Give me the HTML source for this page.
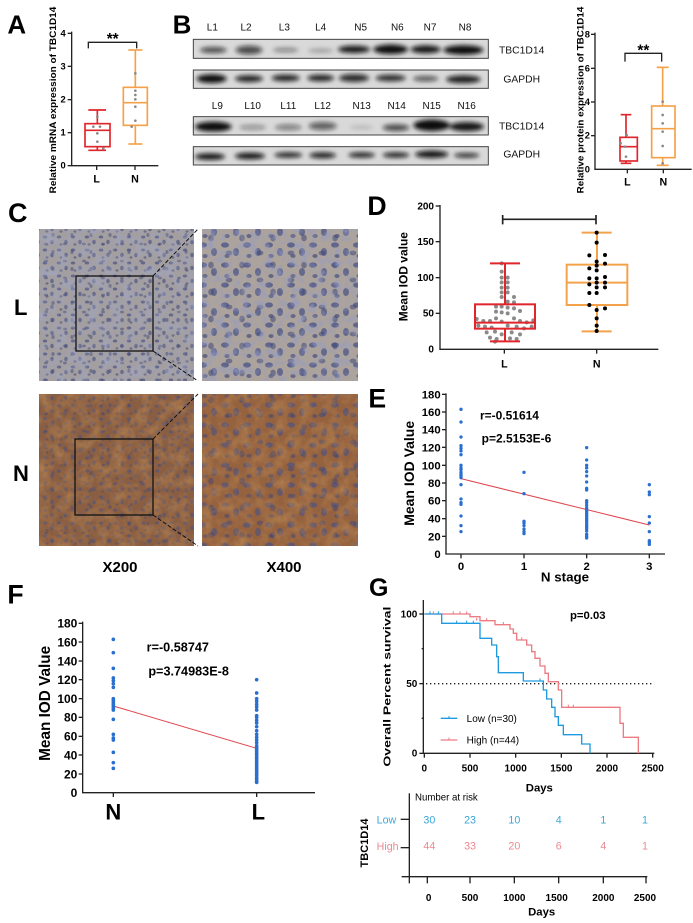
<!DOCTYPE html>
<html><head><meta charset="utf-8"><style>
html,body{margin:0;padding:0;background:#fff;}
svg{display:block;font-family:"Liberation Sans",Arial,sans-serif;}
.b{font-weight:bold;}
</style></head><body>
<svg width="693" height="923" viewBox="0 0 693 923" xmlns="http://www.w3.org/2000/svg">
<defs>
<filter id="blur" x="-20%" y="-50%" width="140%" height="200%"><feGaussianBlur stdDeviation="6"/></filter>
<filter id="noiseL" x="0" y="0" width="1" height="1"><feTurbulence type="fractalNoise" baseFrequency="0.09" numOctaves="3" seed="3"/><feColorMatrix values="0 0 0 0 0.35  0 0 0 0 0.38  0 0 0 0 0.55  0 0 0 1.4 -0.55"/></filter>
<filter id="noiseN" x="0" y="0" width="1" height="1"><feTurbulence type="fractalNoise" baseFrequency="0.08" numOctaves="3" seed="7"/><feColorMatrix values="0 0 0 0 0.45  0 0 0 0 0.22  0 0 0 0 0.08  0 0 0 1.6 -0.6"/></filter>
<filter id="noiseB" x="0" y="0" width="1" height="1"><feTurbulence type="fractalNoise" baseFrequency="0.12" numOctaves="2" seed="11"/><feColorMatrix values="0 0 0 0 0.3  0 0 0 0 0.33  0 0 0 0 0.55  0 0 0 1.8 -0.8"/></filter>
<pattern id="nucS" width="14" height="13" patternUnits="userSpaceOnUse">
<ellipse cx="3" cy="3" rx="2.2" ry="1.5" fill="#475083" opacity=".7"/>
<ellipse cx="10" cy="8" rx="1.8" ry="2.3" fill="#475083" opacity=".65"/>
<ellipse cx="5" cy="10.5" rx="1.5" ry="1.2" fill="#3f4775" opacity=".55"/>
</pattern>
<pattern id="nucS2" width="19" height="17" patternUnits="userSpaceOnUse">
<ellipse cx="8" cy="6" rx="2" ry="1.4" fill="#3f4775" opacity=".5"/>
<ellipse cx="15" cy="14" rx="1.6" ry="2" fill="#3f4775" opacity=".5"/>
</pattern>
<pattern id="nucB" width="22" height="20" patternUnits="userSpaceOnUse">
<ellipse cx="5" cy="5" rx="4" ry="2.6" fill="#465086" opacity=".75"/>
<ellipse cx="16" cy="12" rx="3" ry="4" fill="#465086" opacity=".7"/>
<ellipse cx="7" cy="16" rx="2.6" ry="2" fill="#3e4678" opacity=".65"/>
</pattern>
<pattern id="nucB2" width="31" height="27" patternUnits="userSpaceOnUse">
<ellipse cx="12" cy="10" rx="3.4" ry="2.4" fill="#3e4678" opacity=".55"/>
<ellipse cx="25" cy="22" rx="2.8" ry="3.4" fill="#3e4678" opacity=".55"/>
</pattern>
</defs>

<!-- ========== Panel A ========== -->
<g transform="scale(0.33333)" font-weight="bold">
<text x="22" y="100" font-size="78" class="b">A</text>
<line x1="215" y1="95" x2="215" y2="497" stroke="#222" stroke-width="4"/>
<line x1="213" y1="497" x2="475" y2="497" stroke="#222" stroke-width="4"/>
<g stroke="#222" stroke-width="4">
<line x1="203" y1="100" x2="215" y2="100"/><line x1="203" y1="199" x2="215" y2="199"/><line x1="203" y1="299" x2="215" y2="299"/><line x1="203" y1="398" x2="215" y2="398"/><line x1="203" y1="497" x2="215" y2="497"/>
<line x1="290" y1="497" x2="290" y2="510"/><line x1="405" y1="497" x2="405" y2="510"/>
</g>
<g font-size="28" text-anchor="end"><text x="197" y="109">4</text><text x="197" y="208">3</text><text x="197" y="308">2</text><text x="197" y="407">1</text><text x="197" y="506">0</text></g>
<g font-size="32" text-anchor="middle"><text x="290" y="548">L</text><text x="405" y="548">N</text></g>
<text transform="translate(168,300) rotate(-90)" font-size="28" text-anchor="middle" textLength="560" lengthAdjust="spacingAndGlyphs">Relative mRNA expression of TBC1D14</text>
<path d="M265,145 V127 H410 V145" fill="none" stroke="#222" stroke-width="4"/>
<text x="338" y="132" font-size="46" text-anchor="middle">**</text>
<g stroke="#e0252b" stroke-width="5" fill="none">
<rect x="255" y="371" width="75" height="69"/><line x1="255" y1="391" x2="330" y2="391"/>
<line x1="292" y1="330" x2="292" y2="371"/><line x1="292" y1="440" x2="292" y2="451"/>
<line x1="265" y1="330" x2="318" y2="330"/><line x1="265" y1="451" x2="318" y2="451"/>
</g>
<g stroke="#f4a24a" stroke-width="5" fill="none">
<rect x="370" y="262" width="72" height="114"/><line x1="370" y1="308" x2="442" y2="308"/>
<line x1="406" y1="150" x2="406" y2="262"/><line x1="406" y1="376" x2="406" y2="432"/>
<line x1="385" y1="150" x2="427" y2="150"/><line x1="385" y1="432" x2="427" y2="432"/>
</g>
<g fill="#888"><circle cx="292" cy="350" r="4"/><circle cx="280" cy="380" r="4"/><circle cx="300" cy="380" r="4"/><circle cx="292" cy="400" r="4"/><circle cx="292" cy="425" r="4"/><circle cx="310" cy="445" r="4"/>
<circle cx="406" cy="220" r="4"/><circle cx="406" cy="272" r="4"/><circle cx="406" cy="285" r="4"/><circle cx="406" cy="298" r="4"/><circle cx="406" cy="320" r="4"/><circle cx="406" cy="362" r="4"/><circle cx="395" cy="380" r="4"/></g>
</g>

<!-- ========== Panel B blots ========== -->
<g transform="scale(0.33333)">
<text x="518" y="100" font-size="78" class="b">B</text>
<g font-size="30" text-anchor="middle" fill="#111">
<text x="637" y="92">L1</text><text x="738" y="92">L2</text><text x="853" y="92">L3</text><text x="962" y="92">L4</text>
<text x="1082" y="92">N5</text><text x="1192" y="92">N6</text><text x="1290" y="92">N7</text><text x="1395" y="92">N8</text>
<text x="652" y="327">L9</text><text x="758" y="327">L10</text><text x="865" y="327">L11</text><text x="968" y="327">L12</text>
<text x="1085" y="327">N13</text><text x="1190" y="327">N14</text><text x="1295" y="327">N15</text><text x="1400" y="327">N16</text>
</g>
<g font-size="31" fill="#111">
<text x="1497" y="160">TBC1D14</text><text x="1510" y="248">GAPDH</text>
<text x="1497" y="388">TBC1D14</text><text x="1510" y="472">GAPDH</text>
</g>
<g fill="#d9d9d9" stroke="#444" stroke-width="3">
<rect x="580" y="118" width="885" height="57"/><rect x="580" y="210" width="885" height="55"/>
<rect x="580" y="350" width="885" height="55"/><rect x="580" y="440" width="885" height="55"/>
</g>
<g filter="url(#blur)" fill="#111">
<ellipse cx="640" cy="150" rx="40" ry="9" opacity=".7"/><ellipse cx="747" cy="150" rx="40" ry="13" opacity=".7"/>
<ellipse cx="857" cy="150" rx="38" ry="7" opacity=".4"/><ellipse cx="962" cy="152" rx="38" ry="7" opacity=".25"/>
<ellipse cx="1062" cy="148" rx="48" ry="11" opacity=".95"/><ellipse cx="1172" cy="148" rx="52" ry="14" opacity="1"/>
<ellipse cx="1277" cy="148" rx="45" ry="12" opacity=".95"/><ellipse cx="1390" cy="150" rx="60" ry="14" opacity="1"/>
<ellipse cx="635" cy="236" rx="45" ry="13" opacity="1"/><ellipse cx="747" cy="236" rx="42" ry="10" opacity=".9"/>
<ellipse cx="857" cy="234" rx="42" ry="10" opacity=".9"/><ellipse cx="962" cy="234" rx="40" ry="10" opacity=".9"/>
<ellipse cx="1062" cy="234" rx="45" ry="12" opacity=".85"/><ellipse cx="1172" cy="234" rx="45" ry="10" opacity=".85"/>
<ellipse cx="1277" cy="236" rx="38" ry="8" opacity=".65"/><ellipse cx="1390" cy="238" rx="52" ry="12" opacity=".9"/>
<ellipse cx="640" cy="380" rx="55" ry="15" opacity="1"/><ellipse cx="758" cy="382" rx="40" ry="8" opacity=".35"/>
<ellipse cx="865" cy="382" rx="40" ry="9" opacity=".45"/><ellipse cx="968" cy="378" rx="42" ry="12" opacity=".6"/>
<ellipse cx="1085" cy="382" rx="35" ry="6" opacity=".15"/><ellipse cx="1188" cy="383" rx="40" ry="10" opacity=".7"/>
<ellipse cx="1295" cy="376" rx="55" ry="17" opacity="1"/><ellipse cx="1400" cy="380" rx="52" ry="14" opacity=".95"/>
<ellipse cx="630" cy="470" rx="45" ry="10" opacity=".95"/><ellipse cx="750" cy="468" rx="45" ry="10" opacity=".95"/>
<ellipse cx="865" cy="465" rx="42" ry="8" opacity=".9"/><ellipse cx="968" cy="466" rx="40" ry="9" opacity=".9"/>
<ellipse cx="1085" cy="465" rx="40" ry="8" opacity=".9"/><ellipse cx="1188" cy="465" rx="40" ry="8" opacity=".9"/>
<ellipse cx="1295" cy="463" rx="50" ry="11" opacity=".95"/><ellipse cx="1400" cy="466" rx="38" ry="7" opacity=".85"/>
</g>
</g>

<!-- ========== Panel B right plot ========== -->
<g transform="translate(340,0) scale(0.33333)" font-weight="bold">
<line x1="765" y1="98" x2="765" y2="508" stroke="#222" stroke-width="4"/>
<line x1="763" y1="508" x2="1055" y2="508" stroke="#222" stroke-width="4"/>
<g stroke="#222" stroke-width="4">
<line x1="753" y1="103" x2="765" y2="103"/><line x1="753" y1="205" x2="765" y2="205"/><line x1="753" y1="306" x2="765" y2="306"/><line x1="753" y1="407" x2="765" y2="407"/>
<line x1="862" y1="508" x2="862" y2="520"/><line x1="970" y1="508" x2="970" y2="520"/>
</g>
<g font-size="28" text-anchor="end"><text x="750" y="112">8</text><text x="750" y="214">6</text><text x="750" y="315">4</text><text x="750" y="416">2</text><text x="750" y="517">0</text></g>
<g font-size="32" text-anchor="middle"><text x="862" y="556">L</text><text x="970" y="556">N</text></g>
<text transform="translate(730,300) rotate(-90)" font-size="28" text-anchor="middle" textLength="560" lengthAdjust="spacingAndGlyphs">Relative protein expression of TBC1D14</text>
<path d="M855,185 V160 H965 V185" fill="none" stroke="#222" stroke-width="4"/>
<text x="910" y="167" font-size="46" text-anchor="middle">**</text>
<g stroke="#e0252b" stroke-width="5" fill="none">
<rect x="840" y="412" width="52" height="71"/><line x1="840" y1="440" x2="892" y2="440"/>
<line x1="858" y1="344" x2="858" y2="412"/><line x1="858" y1="483" x2="858" y2="490"/>
<line x1="842" y1="344" x2="874" y2="344"/><line x1="842" y1="490" x2="874" y2="490"/>
</g>
<g stroke="#f4a24a" stroke-width="5" fill="none">
<rect x="935" y="318" width="70" height="155"/><line x1="935" y1="386" x2="1005" y2="386"/>
<line x1="968" y1="202" x2="968" y2="318"/><line x1="968" y1="473" x2="968" y2="496"/>
<line x1="950" y1="202" x2="986" y2="202"/><line x1="950" y1="496" x2="986" y2="496"/>
</g>
<g fill="#888"><circle cx="842" cy="430" r="4"/><circle cx="855" cy="440" r="4"/><circle cx="858" cy="470" r="4"/><circle cx="860" cy="405" r="4"/>
<circle cx="968" cy="305" r="4"/><circle cx="968" cy="345" r="4"/><circle cx="968" cy="370" r="4"/><circle cx="968" cy="395" r="4"/><circle cx="968" cy="438" r="4"/><circle cx="968" cy="490" r="4"/></g>
</g>

<!-- ========== Panel C ========== -->
<text x="8" y="222" font-size="27" class="b">C</text>
<text x="14" y="315" font-size="22" class="b">L</text>
<text x="13" y="481" font-size="22" class="b">N</text>
<rect x="39" y="229" width="155" height="152" fill="#a39e9f"/>
<rect x="39" y="229" width="155" height="152" fill="url(#nucS)"/>
<rect x="39" y="229" width="155" height="152" fill="url(#nucS2)"/>
<rect x="39" y="229" width="155" height="152" filter="url(#noiseL)"/>
<rect x="202" y="229" width="156" height="152" fill="#aca39c"/>
<rect x="202" y="229" width="156" height="152" fill="url(#nucB)"/>
<rect x="202" y="229" width="156" height="152" fill="url(#nucB2)"/>
<rect x="202" y="229" width="156" height="152" filter="url(#noiseB)"/>
<rect x="39" y="394" width="155" height="152" fill="#8a5e42"/>
<rect x="39" y="394" width="155" height="152" fill="url(#nucS)" opacity=".8"/>
<rect x="39" y="394" width="155" height="152" fill="url(#nucS2)" opacity=".8"/>
<rect x="39" y="394" width="155" height="152" filter="url(#noiseN)"/>
<rect x="202" y="394" width="156" height="152" fill="#95623f"/>
<rect x="202" y="394" width="156" height="152" fill="url(#nucB)" opacity=".85"/>
<rect x="202" y="394" width="156" height="152" fill="url(#nucB2)" opacity=".85"/>
<rect x="202" y="394" width="156" height="152" filter="url(#noiseN)"/>
<rect x="76" y="276" width="77" height="75" fill="none" stroke="#111" stroke-width="1.3"/>
<rect x="75" y="439" width="78" height="76" fill="none" stroke="#111" stroke-width="1.3"/>
<g stroke="#111" stroke-width="1" stroke-dasharray="4,2">
<line x1="153" y1="276" x2="198" y2="229"/><line x1="153" y1="351" x2="198" y2="381"/>
<line x1="153" y1="439" x2="198" y2="394"/><line x1="153" y1="515" x2="198" y2="546"/>
</g>
<text x="120" y="572" font-size="15" class="b" text-anchor="middle">X200</text>
<text x="284" y="572" font-size="15" class="b" text-anchor="middle">X400</text>

<!-- ========== Panel D ========== -->
<g transform="translate(370,195) scale(0.33333)" font-weight="bold">
<text x="-8" y="60" font-size="80">D</text>
<line x1="210" y1="30" x2="210" y2="463" stroke="#222" stroke-width="4"/>
<line x1="208" y1="463" x2="865" y2="463" stroke="#222" stroke-width="4"/>
<g stroke="#222" stroke-width="4"><line x1="197" y1="33" x2="210" y2="33"/><line x1="197" y1="140" x2="210" y2="140"/><line x1="197" y1="248" x2="210" y2="248"/><line x1="197" y1="355" x2="210" y2="355"/><line x1="403" y1="463" x2="403" y2="476"/><line x1="680" y1="463" x2="680" y2="476"/></g>
<g font-size="30" text-anchor="end"><text x="192" y="43">200</text><text x="192" y="150">150</text><text x="192" y="258">100</text><text x="192" y="365">50</text><text x="192" y="473">0</text></g>
<g font-size="32" text-anchor="middle"><text x="403" y="518">L</text><text x="680" y="518">N</text></g>
<text transform="translate(112,245) rotate(-90)" font-size="36" text-anchor="middle">Mean IOD value</text>
<path d="M398,88 V60 M398,73 H678 M678,60 V88" fill="none" stroke="#222" stroke-width="5"/>
<g fill="#8a8a8a">
<circle cx="395" cy="205" r="6"/><circle cx="395" cy="230" r="6"/><circle cx="395" cy="248" r="6"/><circle cx="413" cy="248" r="6"/><circle cx="395" cy="262" r="6"/><circle cx="413" cy="262" r="6"/><circle cx="395" cy="278" r="6"/><circle cx="413" cy="278" r="6"/><circle cx="395" cy="292" r="6"/><circle cx="413" cy="292" r="6"/><circle cx="432" cy="306" r="6"/><circle cx="395" cy="306" r="6"/><circle cx="413" cy="320" r="6"/><circle cx="432" cy="322" r="6"/><circle cx="378" cy="335" r="6"/><circle cx="395" cy="335" r="6"/><circle cx="413" cy="338" r="6"/><circle cx="432" cy="340" r="6"/><circle cx="450" cy="348" r="6"/><circle cx="378" cy="350" r="6"/><circle cx="395" cy="352" r="6"/><circle cx="413" cy="355" r="6"/><circle cx="320" cy="372" r="6"/><circle cx="340" cy="378" r="6"/><circle cx="360" cy="378" r="6"/><circle cx="378" cy="370" r="6"/><circle cx="395" cy="380" r="6"/><circle cx="432" cy="370" r="6"/><circle cx="450" cy="378" r="6"/><circle cx="470" cy="382" r="6"/><circle cx="490" cy="376" r="6"/><circle cx="325" cy="392" r="6"/><circle cx="345" cy="395" r="6"/><circle cx="365" cy="398" r="6"/><circle cx="413" cy="392" r="6"/><circle cx="440" cy="395" r="6"/><circle cx="462" cy="400" r="6"/><circle cx="485" cy="395" r="6"/><circle cx="350" cy="412" r="6"/><circle cx="375" cy="410" r="6"/><circle cx="395" cy="418" r="6"/><circle cx="425" cy="412" r="6"/><circle cx="450" cy="418" r="6"/><circle cx="360" cy="428" r="6"/><circle cx="380" cy="432" r="6"/><circle cx="420" cy="430" r="6"/><circle cx="440" cy="432" r="6"/><circle cx="375" cy="440" r="6"/>
</g>
<g stroke="#e0252b" stroke-width="6" fill="none">
<rect x="315" y="328" width="180" height="73"/><line x1="315" y1="383" x2="495" y2="383"/>
<line x1="405" y1="205" x2="405" y2="328"/><line x1="405" y1="401" x2="405" y2="439"/>
<line x1="360" y1="205" x2="450" y2="205"/><line x1="360" y1="439" x2="450" y2="439"/>
</g>
<g stroke="#f4a24a" stroke-width="6" fill="none">
<rect x="590" y="209" width="182" height="121"/><line x1="590" y1="263" x2="772" y2="263"/>
<line x1="681" y1="113" x2="681" y2="209"/><line x1="681" y1="330" x2="681" y2="409"/>
<line x1="635" y1="113" x2="725" y2="113"/><line x1="635" y1="409" x2="725" y2="409"/>
</g>
<g fill="#000">
<circle cx="680" cy="113" r="6"/><circle cx="680" cy="143" r="6"/><circle cx="658" cy="181" r="6"/><circle cx="705" cy="180" r="6"/><circle cx="680" cy="200" r="6"/><circle cx="658" cy="220" r="6"/><circle cx="680" cy="212" r="6"/><circle cx="705" cy="206" r="6"/><circle cx="680" cy="226" r="6"/><circle cx="658" cy="250" r="6"/><circle cx="680" cy="250" r="6"/><circle cx="705" cy="246" r="6"/><circle cx="658" cy="268" r="6"/><circle cx="680" cy="263" r="6"/><circle cx="705" cy="263" r="6"/><circle cx="680" cy="277" r="6"/><circle cx="705" cy="277" r="6"/><circle cx="658" cy="294" r="6"/><circle cx="680" cy="294" r="6"/><circle cx="658" cy="330" r="6"/><circle cx="705" cy="340" r="6"/><circle cx="680" cy="345" r="6"/><circle cx="680" cy="370" r="6"/><circle cx="680" cy="392" r="6"/><circle cx="680" cy="408" r="6"/>
</g>
</g>

<!-- ========== Panel E ========== -->
<g transform="translate(370,380) scale(0.33333)" font-weight="bold">
<text x="-5" y="82" font-size="80">E</text>
<line x1="228" y1="40" x2="228" y2="522" stroke="#222" stroke-width="4"/>
<line x1="226" y1="522" x2="885" y2="522" stroke="#222" stroke-width="4"/>
<g stroke="#222" stroke-width="4">
<line x1="216" y1="43" x2="228" y2="43"/><line x1="216" y1="96" x2="228" y2="96"/><line x1="216" y1="149" x2="228" y2="149"/><line x1="216" y1="202" x2="228" y2="202"/><line x1="216" y1="256" x2="228" y2="256"/><line x1="216" y1="309" x2="228" y2="309"/><line x1="216" y1="362" x2="228" y2="362"/><line x1="216" y1="416" x2="228" y2="416"/><line x1="216" y1="469" x2="228" y2="469"/>
<line x1="273" y1="522" x2="273" y2="535"/><line x1="462" y1="522" x2="462" y2="535"/><line x1="650" y1="522" x2="650" y2="535"/><line x1="838" y1="522" x2="838" y2="535"/>
</g>
<g font-size="34" text-anchor="end"><text x="212" y="55">180</text><text x="212" y="108">160</text><text x="212" y="161">140</text><text x="212" y="214">120</text><text x="212" y="268">100</text><text x="212" y="321">80</text><text x="212" y="374">60</text><text x="212" y="428">40</text><text x="212" y="481">20</text><text x="212" y="534">0</text></g>
<g font-size="34" text-anchor="middle"><text x="273" y="570">0</text><text x="462" y="570">1</text><text x="650" y="570">2</text><text x="838" y="570">3</text></g>
<text x="585" y="605" font-size="40" text-anchor="middle">N stage</text>
<text transform="translate(132,280) rotate(-90)" font-size="42" text-anchor="middle">Mean IOD Value</text>
<text x="330" y="118" font-size="36">r=-0.51614</text>
<text x="335" y="187" font-size="36">p=2.5153E-6</text>
<line x1="273" y1="296" x2="838" y2="435" stroke="#e0454d" stroke-width="3"/>
<g fill="#2a6fd0">
<circle cx="273" cy="88" r="5"/><circle cx="273" cy="126" r="5"/><circle cx="273" cy="171" r="5"/><circle cx="273" cy="197" r="5"/><circle cx="273" cy="205" r="5"/><circle cx="273" cy="213" r="5"/><circle cx="273" cy="224" r="5"/><circle cx="273" cy="256" r="5"/><circle cx="273" cy="264" r="5"/><circle cx="273" cy="269" r="5"/><circle cx="273" cy="277" r="5"/><circle cx="273" cy="283" r="5"/><circle cx="273" cy="288" r="5"/><circle cx="273" cy="293" r="5"/><circle cx="273" cy="314" r="5"/><circle cx="273" cy="357" r="5"/><circle cx="273" cy="368" r="5"/><circle cx="273" cy="373" r="5"/><circle cx="273" cy="408" r="5"/><circle cx="273" cy="437" r="5"/><circle cx="273" cy="455" r="5"/>
<circle cx="462" cy="277" r="5"/><circle cx="462" cy="341" r="5"/><circle cx="462" cy="424" r="5"/><circle cx="462" cy="429" r="5"/><circle cx="462" cy="437" r="5"/><circle cx="462" cy="447" r="5"/><circle cx="462" cy="455" r="5"/><circle cx="462" cy="461" r="5"/>
<circle cx="650" cy="203" r="5"/><circle cx="650" cy="240" r="5"/><circle cx="650" cy="256" r="5"/><circle cx="650" cy="264" r="5"/><circle cx="650" cy="275" r="5"/><circle cx="650" cy="288" r="5"/><circle cx="650" cy="306" r="5"/><circle cx="650" cy="325" r="5"/><circle cx="650" cy="330" r="5"/><circle cx="650" cy="362" r="5"/><circle cx="650" cy="368" r="5"/><circle cx="650" cy="376" r="5"/><circle cx="650" cy="384" r="5"/><circle cx="650" cy="389" r="5"/><circle cx="650" cy="394" r="5"/><circle cx="650" cy="400" r="5"/><circle cx="650" cy="405" r="5"/><circle cx="650" cy="410" r="5"/><circle cx="650" cy="416" r="5"/><circle cx="650" cy="421" r="5"/><circle cx="650" cy="426" r="5"/><circle cx="650" cy="432" r="5"/><circle cx="650" cy="437" r="5"/><circle cx="650" cy="442" r="5"/><circle cx="650" cy="447" r="5"/><circle cx="650" cy="453" r="5"/><circle cx="650" cy="463" r="5"/><circle cx="650" cy="469" r="5"/><circle cx="650" cy="474" r="5"/>
<circle cx="838" cy="314" r="5"/><circle cx="838" cy="336" r="5"/><circle cx="838" cy="344" r="5"/><circle cx="838" cy="410" r="5"/><circle cx="838" cy="429" r="5"/><circle cx="838" cy="455" r="5"/><circle cx="838" cy="482" r="5"/><circle cx="838" cy="487" r="5"/><circle cx="838" cy="493" r="5"/>
</g>
</g>

<!-- ========== Panel F ========== -->
<g transform="translate(0,590) scale(0.33333)" font-weight="bold">
<text x="22" y="40" font-size="80">F</text>
<line x1="248" y1="95" x2="248" y2="608" stroke="#222" stroke-width="4"/>
<line x1="246" y1="608" x2="945" y2="608" stroke="#222" stroke-width="4"/>
<g stroke="#222" stroke-width="4">
<line x1="236" y1="100" x2="248" y2="100"/><line x1="236" y1="156" x2="248" y2="156"/><line x1="236" y1="213" x2="248" y2="213"/><line x1="236" y1="269" x2="248" y2="269"/><line x1="236" y1="326" x2="248" y2="326"/><line x1="236" y1="382" x2="248" y2="382"/><line x1="236" y1="439" x2="248" y2="439"/><line x1="236" y1="495" x2="248" y2="495"/><line x1="236" y1="552" x2="248" y2="552"/>
<line x1="340" y1="608" x2="340" y2="621"/><line x1="770" y1="608" x2="770" y2="621"/>
</g>
<g font-size="36" text-anchor="end"><text x="232" y="113">180</text><text x="232" y="169">160</text><text x="232" y="226">140</text><text x="232" y="282">120</text><text x="232" y="339">100</text><text x="232" y="395">80</text><text x="232" y="452">60</text><text x="232" y="508">40</text><text x="232" y="565">20</text><text x="232" y="621">0</text></g>
<g font-size="66" text-anchor="middle"><text x="340" y="688">N</text><text x="775" y="688">L</text></g>
<text transform="translate(150,340) rotate(-90)" font-size="46" text-anchor="middle">Mean IOD Value</text>
<text x="440" y="185" font-size="38">r=-0.58747</text>
<text x="445" y="256" font-size="38">p=3.74983E-8</text>
<line x1="340" y1="348" x2="770" y2="475" stroke="#e0454d" stroke-width="3"/>
<g fill="#2a6fd0">
<circle cx="340" cy="148" r="5.5"/><circle cx="340" cy="188" r="5.5"/><circle cx="340" cy="235" r="5.5"/><circle cx="340" cy="264" r="5.5"/><circle cx="340" cy="272" r="5.5"/><circle cx="340" cy="281" r="5.5"/><circle cx="340" cy="292" r="5.5"/><circle cx="340" cy="326" r="5.5"/><circle cx="340" cy="331" r="5.5"/><circle cx="340" cy="337" r="5.5"/><circle cx="340" cy="343" r="5.5"/><circle cx="340" cy="348" r="5.5"/><circle cx="340" cy="354" r="5.5"/><circle cx="340" cy="360" r="5.5"/><circle cx="340" cy="388" r="5.5"/><circle cx="340" cy="433" r="5.5"/><circle cx="340" cy="444" r="5.5"/><circle cx="340" cy="450" r="5.5"/><circle cx="340" cy="487" r="5.5"/><circle cx="340" cy="518" r="5.5"/><circle cx="340" cy="535" r="5.5"/>
<circle cx="770" cy="269" r="5.5"/><circle cx="770" cy="309" r="5.5"/><circle cx="770" cy="326" r="5.5"/><circle cx="770" cy="334" r="5.5"/><circle cx="770" cy="343" r="5.5"/><circle cx="770" cy="351" r="5.5"/><circle cx="770" cy="360" r="5.5"/><circle cx="770" cy="377" r="5.5"/><circle cx="770" cy="382" r="5.5"/><circle cx="770" cy="391" r="5.5"/><circle cx="770" cy="399" r="5.5"/><circle cx="770" cy="410" r="5.5"/><circle cx="770" cy="422" r="5.5"/><circle cx="770" cy="433" r="5.5"/><circle cx="770" cy="442" r="5.5"/><circle cx="770" cy="450" r="5.5"/><circle cx="770" cy="458" r="5.5"/><circle cx="770" cy="467" r="5.5"/><circle cx="770" cy="473" r="5.5"/><circle cx="770" cy="478" r="5.5"/><circle cx="770" cy="484" r="5.5"/><circle cx="770" cy="490" r="5.5"/><circle cx="770" cy="495" r="5.5"/><circle cx="770" cy="501" r="5.5"/><circle cx="770" cy="506" r="5.5"/><circle cx="770" cy="512" r="5.5"/><circle cx="770" cy="518" r="5.5"/><circle cx="770" cy="523" r="5.5"/><circle cx="770" cy="529" r="5.5"/><circle cx="770" cy="535" r="5.5"/><circle cx="770" cy="540" r="5.5"/><circle cx="770" cy="546" r="5.5"/><circle cx="770" cy="552" r="5.5"/><circle cx="770" cy="557" r="5.5"/><circle cx="770" cy="563" r="5.5"/><circle cx="770" cy="568" r="5.5"/><circle cx="770" cy="574" r="5.5"/><circle cx="770" cy="577" r="5.5"/>
</g>
</g>

<!-- ========== Panel G ========== -->
<text x="369" y="596" font-size="25" class="b">G</text>
<g transform="translate(370,590) scale(0.33333)" font-weight="bold">
<line x1="160" y1="30" x2="160" y2="490" stroke="#222" stroke-width="4"/>
<line x1="158" y1="490" x2="853" y2="490" stroke="#222" stroke-width="4"/>
<g stroke="#222" stroke-width="4">
<line x1="148" y1="72" x2="160" y2="72"/><line x1="148" y1="281" x2="160" y2="281"/><line x1="148" y1="490" x2="160" y2="490"/>
<line x1="163" y1="490" x2="163" y2="503"/><line x1="300" y1="490" x2="300" y2="503"/><line x1="437" y1="490" x2="437" y2="503"/><line x1="574" y1="490" x2="574" y2="503"/><line x1="711" y1="490" x2="711" y2="503"/><line x1="848" y1="490" x2="848" y2="503"/>
<line x1="155" y1="176" x2="160" y2="176"/><line x1="155" y1="385" x2="160" y2="385"/>
</g>
<g font-size="30" text-anchor="end"><text x="142" y="82">100</text><text x="142" y="291">50</text><text x="142" y="500">0</text></g>
<g font-size="30" text-anchor="middle"><text x="163" y="545">0</text><text x="300" y="545">500</text><text x="437" y="545">1000</text><text x="574" y="545">1500</text><text x="711" y="545">2000</text><text x="848" y="545">2500</text></g>
<text x="508" y="605" font-size="34" text-anchor="middle">Days</text>
<text transform="translate(62,290) rotate(-90)" font-size="31" text-anchor="middle" textLength="480" lengthAdjust="spacingAndGlyphs">Overall Percent survival</text>
<text x="600" y="87" font-size="34">p=0.03</text>
<line x1="168" y1="281" x2="848" y2="281" stroke="#222" stroke-width="4" stroke-dasharray="4,8"/>
<path d="M163,72 H300 V80 H330 V92 H375 V104 H420 V117 H430 V130 H440 V150 H470 V165 H485 V185 H495 V205 H510 V228 H525 V250 H535 V275 H565 V300 H575 V352 H750 V400 H760 V442 H805 V490" fill="none" stroke="#ec7b82" stroke-width="4"/>
<path d="M163,72 H215 V100 H330 V145 H365 V165 H380 V200 H385 V248 H460 V273 H520 V300 H530 V327 H545 V352 H555 V380 H565 V406 H580 V434 H635 V462 H660 V490" fill="none" stroke="#1e9be0" stroke-width="4"/>
<g stroke="#ec7b82" stroke-width="3"><line x1="190" y1="64" x2="190" y2="72"/><line x1="250" y1="64" x2="250" y2="72"/><line x1="270" y1="64" x2="270" y2="72"/><line x1="290" y1="64" x2="290" y2="72"/><line x1="320" y1="84" x2="320" y2="92"/><line x1="350" y1="84" x2="350" y2="92"/><line x1="400" y1="96" x2="400" y2="104"/><line x1="455" y1="142" x2="455" y2="150"/><line x1="595" y1="344" x2="595" y2="352"/><line x1="610" y1="344" x2="610" y2="352"/></g>
<g stroke="#1e9be0" stroke-width="3"><line x1="180" y1="64" x2="180" y2="72"/><line x1="205" y1="64" x2="205" y2="72"/><line x1="260" y1="92" x2="260" y2="100"/><line x1="290" y1="92" x2="290" y2="100"/><line x1="310" y1="92" x2="310" y2="100"/><line x1="510" y1="265" x2="510" y2="273"/></g>
<line x1="212" y1="385" x2="262" y2="385" stroke="#1e9be0" stroke-width="4"/><line x1="237" y1="378" x2="237" y2="385" stroke="#1e9be0" stroke-width="3"/>
<line x1="212" y1="450" x2="262" y2="450" stroke="#ec7b82" stroke-width="4"/><line x1="237" y1="443" x2="237" y2="450" stroke="#ec7b82" stroke-width="3"/>
<text x="290" y="396" font-size="30" font-weight="normal">Low (n=30)</text>
<text x="290" y="461" font-size="30" font-weight="normal">High (n=44)</text>
</g>

<!-- Risk table -->
<g transform="translate(370,780) scale(0.33333)">
<line x1="118" y1="40" x2="118" y2="290" stroke="#222" stroke-width="4"/>
<line x1="95" y1="290" x2="832" y2="290" stroke="#222" stroke-width="4"/>
<g stroke="#222" stroke-width="4"><line x1="118" y1="290" x2="118" y2="310"/><line x1="172" y1="290" x2="172" y2="310"/><line x1="300" y1="290" x2="300" y2="310"/><line x1="433" y1="290" x2="433" y2="310"/><line x1="566" y1="290" x2="566" y2="310"/><line x1="700" y1="290" x2="700" y2="310"/><line x1="828" y1="290" x2="828" y2="310"/>
<line x1="92" y1="118" x2="118" y2="118"/><line x1="92" y1="203" x2="118" y2="203"/></g>
<text x="135" y="62" font-size="29">Number at risk</text>
<g font-size="32" fill="#3aa7d8"><text x="20" y="130">Low</text></g>
<g font-size="32" fill="#ec8a90"><text x="20" y="210">High</text></g>
<g font-size="32" fill="#3aa7d8" text-anchor="middle"><text x="178" y="130">30</text><text x="300" y="130">23</text><text x="433" y="130">10</text><text x="566" y="130">4</text><text x="700" y="130">1</text><text x="825" y="130">1</text></g>
<g font-size="32" fill="#ec8a90" text-anchor="middle"><text x="178" y="208">44</text><text x="300" y="208">33</text><text x="433" y="208">20</text><text x="566" y="208">6</text><text x="700" y="208">4</text><text x="825" y="208">1</text></g>
<g font-size="30" font-weight="bold" text-anchor="middle"><text x="176" y="363">0</text><text x="300" y="363">500</text><text x="433" y="363">1000</text><text x="560" y="363">1500</text><text x="700" y="363">2000</text><text x="825" y="363">2500</text></g>
<text x="515" y="407" font-size="34" font-weight="bold" text-anchor="middle">Days</text>
</g>
<text transform="translate(368,843) rotate(-90)" font-size="11" class="b" text-anchor="middle">TBC1D14</text>
</svg>
</body></html>
